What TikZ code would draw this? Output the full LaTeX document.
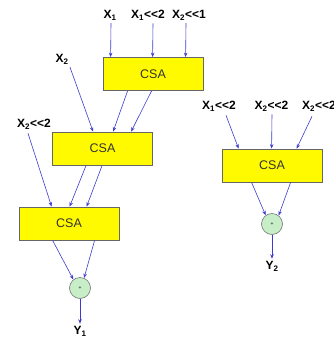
\documentclass[tikz,border=0pt]{standalone}
\usepackage{fontspec}
\setmainfont[Ligatures=NoCommon]{Liberation Sans}
\usetikzlibrary{calc,arrows.meta}
\definecolor{wire}{RGB}{60,60,205}
\definecolor{csafill}{RGB}{255,250,0}
\definecolor{addfill}{RGB}{200,238,200}
\newcommand{\shl}{<{}<}
\tikzset{
  csa/.style={draw=black!60, line width=0.8pt, fill=csafill, minimum width=100pt,
    minimum height=33pt, inner sep=0pt, text=black!80,
    font=\fontsize{12.5}{14}\selectfont},
  adder/.style={circle, draw=black!55, line width=0.6pt, fill=addfill, minimum size=21pt,
    inner sep=0pt, font=\fontsize{5}{5}\selectfont},
  lbl/.style={inner sep=0pt, font=\bfseries\fontsize{12}{14}\selectfont},
  arr/.style={wire, line width=0.6pt, -{Stealth[length=4.5pt,width=3.5pt]}}
}
\begin{document}
\begin{tikzpicture}[x=1pt,y=-1pt]
\useasboundingbox (0,0) rectangle (333,338);
\clip (0,0) rectangle (333,338);
% left tree of three carry-save adders
\node[csa] (csaA) at (153,74) {CSA};
\node[csa] (csaB) at (102.5,148.5) {CSA};
\node[csa] (csaC) at (69,223.5) {CSA};
\node[adder] (addA) at (80,288) {+};
% right carry-save adder
\node[csa] (csaD) at (272,165.5) {CSA};
\node[adder] (addB) at (272,224) {+};
% operand labels
\node[lbl] (x1) at (110,15) {X\textsubscript{1}};
\node[lbl] (x1s) at (148,15) {X\textsubscript{1}\shl2};
\node[lbl] (x2s1) at (189,15) {X\textsubscript{2}\shl1};
\node[lbl] (x2) at (62,59) {X\textsubscript{2}};
\node[lbl] (x2s2) at (34,124) {X\textsubscript{2}\shl2};
\node[lbl] (rx1s) at (219,106) {X\textsubscript{1}\shl2};
\node[lbl] (rx2s) at (271.5,106) {X\textsubscript{2}\shl2};
\node[lbl, anchor=west] (rx2t) at (302,106) {X\textsubscript{2}\shl2};
\node[lbl] (y1) at (80,331) {Y\textsubscript{1}};
\node[lbl] (y2) at (272,266) {Y\textsubscript{2}};
% wires into the first adder
\draw[arr] ($(x1.south)+(1,3)$) -- ($(csaA.north west)+(8,0)$);
\draw[arr] ($(x1s.south)+(5,3)$) -- ($(csaA.north west)+(50,0)$);
\draw[arr] ($(x2s1.south)+(-3,3)$) -- ($(csaA.north west)+(83,0)$);
% wires into the second adder
\draw[arr] ($(x2.south)+(8,3)$) -- ($(csaB.north west)+(41,0)$);
\draw[arr] ($(csaA.south west)+(25,0)$) -- ($(csaB.north west)+(61,0)$);
\draw[arr] ($(csaA.south west)+(49,0)$) -- ($(csaB.north west)+(79,0)$);
% wires into the third adder
\draw[arr] ($(x2s2.south)+(-6,4)$) -- ($(csaC.north west)+(33,0)$);
\draw[arr] ($(csaB.south west)+(34,0)$) -- ($(csaC.north west)+(51,0)$);
\draw[arr] ($(csaB.south west)+(50,0)$) -- ($(csaC.north west)+(68,0)$);
% final addition, left
\draw[arr] ($(csaC.south west)+(34,0)$) -- (addA.128);
\draw[arr] ($(csaC.south west)+(76,0)$) -- (addA.68);
\draw[arr] (addA.south) -- ($(y1.north)+(0,-2)$);
% right adder
\draw[arr] ($(rx1s.south)+(7,4)$) -- ($(csaD.north west)+(17,0)$);
\draw[arr] ($(rx2s.south)+(0.5,3)$) -- ($(csaD.north west)+(50,0)$);
\draw[arr] ($(rx2t.south west)+(10,5)$) -- ($(csaD.north west)+(75,0)$);
\draw[arr] ($(csaD.south west)+(30,0)$) -- (addB.126);
\draw[arr] ($(csaD.south west)+(69,0)$) -- (addB.52);
\draw[arr] (addB.south) -- ($(y2.north)+(0,-2)$);
\end{tikzpicture}
\end{document}
